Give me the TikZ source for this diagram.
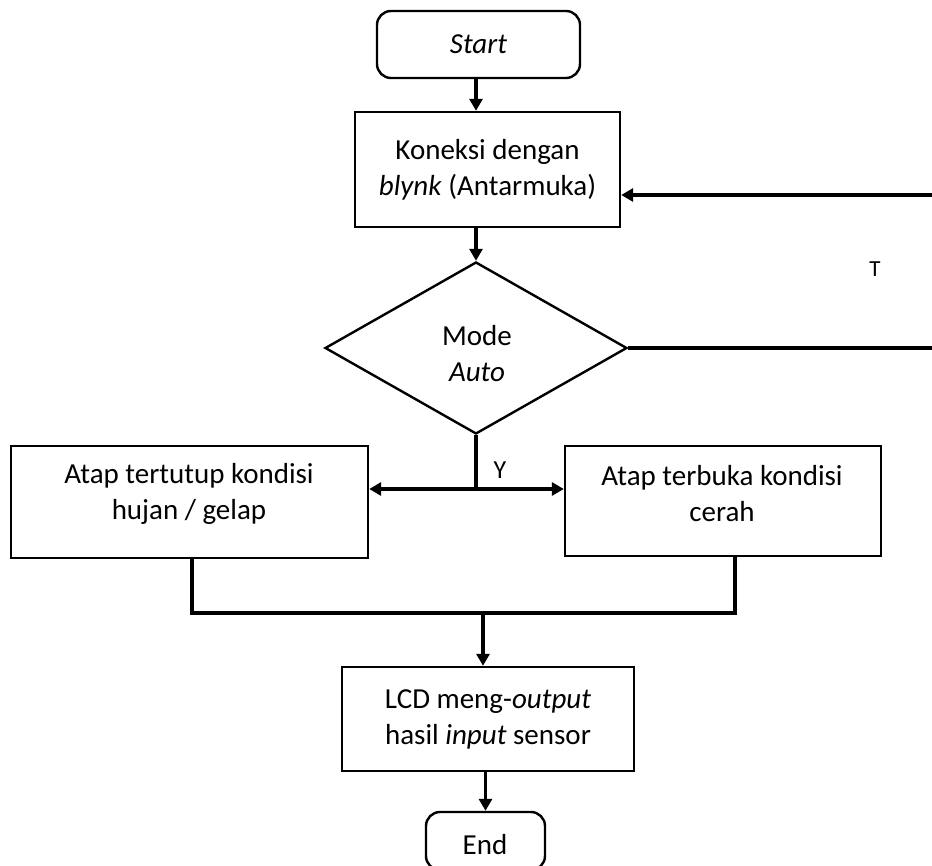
\documentclass[tikz,border=0pt]{standalone}
\usepackage{fontspec}
\setmainfont{Carlito}
\usetikzlibrary{shapes.geometric,arrows.meta,calc}
\tikzset{
  box/.style={draw, line width=1.2pt, rectangle, inner sep=0pt, align=center, font=\fontsize{14.5}{18}\selectfont},
  term/.style={box, rounded corners=7pt},
  txt/.style={inner sep=0pt, align=center, font=\fontsize{14.5}{18}\selectfont},
  dec/.style={draw, line width=1.2pt, diamond, inner sep=0pt, align=center, font=\fontsize{14.5}{18}\selectfont},
  conn/.style={line width=1.6pt},
  arr/.style={conn, -{Triangle[length=6pt,width=6.5pt]}},
  lbl/.style={inner sep=0pt, font=\fontsize{13}{15}\selectfont}
}
\begin{document}
\begin{tikzpicture}[x=0.5pt,y=-0.5pt]
\useasboundingbox (0,0) rectangle (932,866);
% nodes
\node[term, minimum width=101.5pt, minimum height=33.5pt] (start) at (478.5,44.5) {\textit{Start}};
\node[box, minimum width=132.5pt, minimum height=57.5pt] (kon) at (487.5,169.5) {Koneksi dengan\\\textit{blynk} (Antarmuka)};
\node[dec, minimum width=151pt, minimum height=86pt] (dm) at (476,348) {};
\node[txt] (dmt) at (477,354) {Mode\\\textit{Auto}};
\node[box, minimum width=178.5pt, minimum height=56pt] (lb) at (189.5,502) {};
\node[txt] (lbt) at (189,494) {Atap tertutup kondisi\\hujan / gelap};
\node[box, minimum width=158pt, minimum height=55pt] (rb) at (723,501) {};
\node[txt] (rbt) at (722,494) {Atap terbuka kondisi\\cerah};
\node[box, minimum width=146pt, minimum height=52pt] (lcd) at (488,719) {LCD meng-\textit{output}\\hasil \textit{input} sensor};
\node[term, minimum width=59.5pt, minimum height=29pt] (end) at (485.5,841) {};
\node[txt] (endt) at (485,845) {End};
% labels
\node[lbl] (ylab) at (500,470) {Y};
\node[lbl, font=\fontsize{11.5}{13}\selectfont] (tlab) at (875,269) {T};
% coordinates
\coordinate (j) at (476,489);
\coordinate (lbd) at (192,613);
\coordinate (rbd) at (735,613);
\coordinate (m) at (483,613);
\coordinate (r1) at (932,195);
\coordinate (r2) at (932,348);
% connectors
\draw[arr] (start.south -| dm.north) -- (dm.north |- kon.north);
\draw[arr] (kon.south -| dm.north) -- (dm.north);
\draw[conn] (dm.south) -- (j);
\draw[arr] (j) -- (lb.east |- j);
\draw[arr] (j) -- (rb.west |- j);
\draw[conn] (lb.south -| lbd) -- (lbd) -- (rbd) -- (rb.south -| rbd);
\draw[arr] (m) -- (lcd.north -| m);
\draw[arr] (lcd.south -| end.north) -- (end.north);
\draw[arr] (r1) -- (kon.east |- r1);
\draw[conn] (dm.east) -- (r2);
\end{tikzpicture}
\end{document}
